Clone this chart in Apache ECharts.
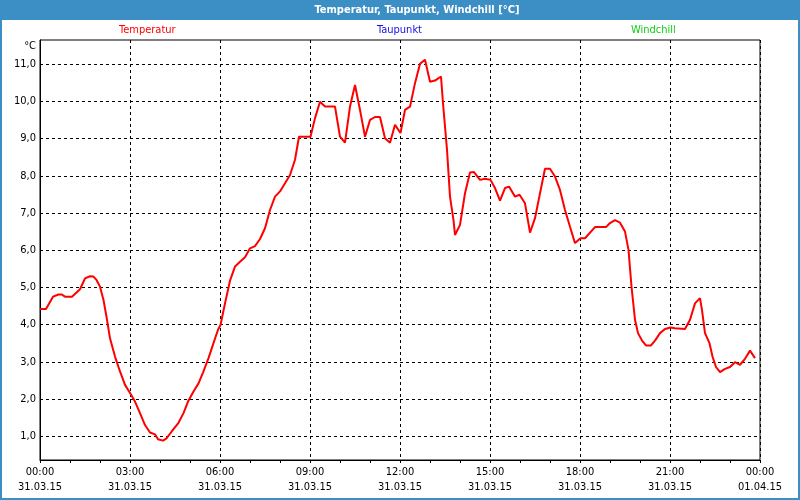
<!DOCTYPE html>
<html>
<head>
<meta charset="utf-8">
<script src="https://cdn.jsdelivr.net/npm/echarts@6/dist/echarts.min.js"></script>
<style>
html,body{margin:0;padding:0;background:#fff;}
#c{width:800px;height:500px;}
</style>
</head>
<body>
<div id="c"></div>
<script>
// time in minutes since 31.03.15 00:00
const times = [0,12,26,37,43,50,64,80,90,100,107,113,120,127,133,140,150,160,170,181,190,200,210,220,230,236,246,253,263,277,287,296,307,317,326,337,347,356,361,370,380,390,400,410,420,430,440,450,460,470,480,490,500,510,518,527,541,550,560,570,590,600,610,620,630,640,650,660,670,680,690,700,710,721,730,740,750,760,770,780,790,802,806,814,820,827,830,840,850,860,868,880,890,901,910,920,930,938,950,959,970,980,990,1000,1010,1020,1030,1040,1050,1060,1070,1081,1090,1110,1132,1140,1150,1160,1170,1177,1183,1190,1196,1204,1212,1222,1230,1240,1250,1261,1270,1290,1300,1310,1320,1324,1330,1339,1345,1352,1360,1370,1380,1390,1400,1410,1420,1430];
const temperatur = [4.42,4.42,4.75,4.81,4.81,4.75,4.75,4.95,5.24,5.30,5.29,5.20,5.02,4.66,4.21,3.63,3.14,2.74,2.38,2.14,1.93,1.62,1.30,1.10,1.05,0.92,0.88,0.94,1.12,1.36,1.62,1.93,2.20,2.42,2.71,3.10,3.50,3.86,3.99,4.57,5.18,5.56,5.69,5.81,6.05,6.11,6.30,6.59,7.08,7.44,7.58,7.80,8.02,8.43,9.05,9.05,9.05,9.55,9.99,9.86,9.86,9.05,8.89,9.86,10.44,9.77,9.05,9.50,9.58,9.58,9.01,8.89,9.37,9.15,9.77,9.86,10.49,11.01,11.12,10.53,10.56,10.67,9.95,8.70,7.44,6.81,6.41,6.68,7.53,8.09,8.10,7.89,7.92,7.89,7.67,7.33,7.67,7.71,7.44,7.49,7.26,6.47,6.86,7.53,8.19,8.19,7.98,7.62,7.08,6.63,6.19,6.32,6.32,6.62,6.62,6.73,6.81,6.74,6.50,6.01,5.02,4.13,3.77,3.57,3.44,3.44,3.57,3.77,3.88,3.92,3.90,3.88,4.13,4.57,4.71,4.39,3.77,3.50,3.14,2.86,2.72,2.81,2.86,2.99,2.92,3.08,3.30,3.10];
const taupunkt = [];
const windchill = [];
const xTimeLabels = ['00:00','03:00','06:00','09:00','12:00','15:00','18:00','21:00','00:00'];
const xDateLabels = ['31.03.15','31.03.15','31.03.15','31.03.15','31.03.15','31.03.15','31.03.15','31.03.15','01.04.15'];
const yTicks = [1,2,3,4,5,6,7,8,9,10,11];
const titleText = 'Temperatur, Taupunkt, Windchill [°C]';
const unitText = '°C';

const FONT = '"DejaVu Sans Condensed", "Liberation Sans", sans-serif';
const chart = echarts.init(document.getElementById('c'), null, {renderer:'canvas'});
const grid = {left:40, right:40, top:40, bottom:40};

function legendAt(name, left, color){
  return {
    data:[name], left:left, top:25, icon:'none', itemWidth:0, itemHeight:0, itemGap:0,
    selectedMode:false, padding:0,
    textStyle:{color:color, fontFamily:FONT, fontSize:11}
  };
}

chart.setOption({
  backgroundColor:'#ffffff',
  animation:false,
  graphic:[
    {type:'rect', shape:{x:0,y:0,width:800,height:20}, style:{fill:'#3c8fc4'}, z:10},
    {type:'text', x:417, y:10, style:{text:titleText, fill:'#ffffff', font:'bold 11px ' + FONT, textAlign:'center', textVerticalAlign:'middle'}, z:11},
    {type:'rect', shape:{x:1,y:1,width:798,height:498}, style:{fill:'none', stroke:'#3c8fc4', lineWidth:2}, z:12},
    {type:'text', x:36, y:46, style:{text:unitText, fill:'#000', font:'11px ' + FONT, textAlign:'right', textVerticalAlign:'middle'}, z:11}
  ],
  legend:[
    legendAt('Temperatur', 114, '#ff0000'),
    legendAt('Taupunkt', 372, '#1010e0'),
    legendAt('Windchill', 626, '#10d010')
  ],
  grid:Object.assign({show:true, borderColor:'#000', borderWidth:1, backgroundColor:'#ffffff', containLabel:false}, grid),
  xAxis:{
    type:'value', min:0, max:1440, interval:180,
    axisLine:{show:true, lineStyle:{color:'#000', width:1}},
    axisTick:{show:true, length:3, inside:false, lineStyle:{color:'#000'}},
    minorTick:{show:true, splitNumber:3, length:3, lineStyle:{color:'#000'}},
    splitLine:{show:true, lineStyle:{color:'#000', type:[3,3], width:1}},
    axisLabel:{
      margin:5, color:'#000', fontFamily:FONT, fontSize:11, lineHeight:15,
      formatter:function(v){ const i = Math.round(v/180); return xTimeLabels[i] + '\n' + xDateLabels[i]; }
    }
  },
  yAxis:{
    type:'value', min:0.36, max:11.65,
    axisLine:{show:true, lineStyle:{color:'#000', width:1}},
    axisTick:{show:false, customValues:yTicks},
    splitLine:{show:true, lineStyle:{color:'#000', type:[3,3], width:1}},
    axisLabel:{
      customValues:yTicks, margin:4, color:'#000', fontFamily:FONT, fontSize:11,
      formatter:function(v){ return v.toFixed(1).replace('.', ','); }
    }
  },
  series:[
    {name:'Temperatur', type:'line', data:times.map((t,i)=>[t, temperatur[i]]), showSymbol:false, symbol:'none',
     lineStyle:{color:'#ff0000', width:2}, itemStyle:{color:'#ff0000'}, smooth:false, z:5},
    {name:'Taupunkt', type:'line', data:taupunkt, showSymbol:false, lineStyle:{color:'#0000ff', width:2}, itemStyle:{color:'#0000ff'}},
    {name:'Windchill', type:'line', data:windchill, showSymbol:false, lineStyle:{color:'#00cc00', width:2}, itemStyle:{color:'#00cc00'}}
  ]
});
</script>
</body>
</html>
